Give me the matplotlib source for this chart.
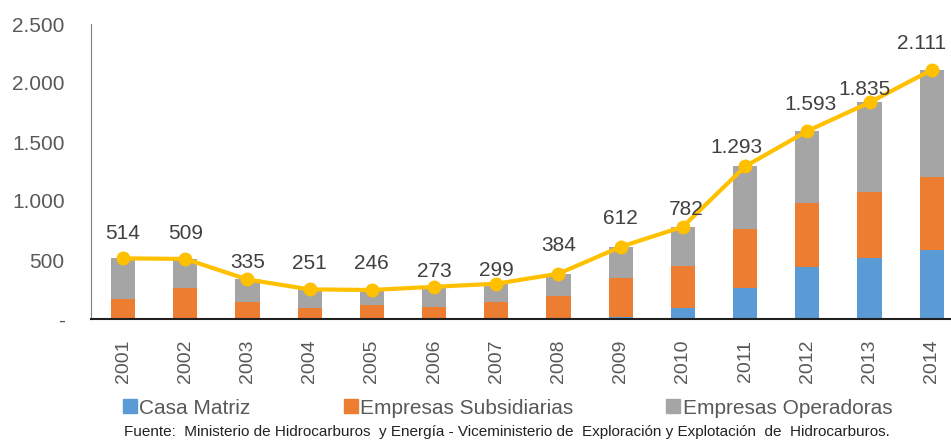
import numpy as np
import matplotlib.pyplot as plt
from matplotlib.lines import Line2D

years = ["2001", "2002", "2003", "2004", "2005", "2006", "2007",
         "2008", "2009", "2010", "2011", "2012", "2013", "2014"]
casa_matriz = [0, 0, 0, 0, 0, 0, 0, 0, 20, 90, 265, 440, 520, 585]
subsidiarias = [170, 260, 140, 90, 115, 100, 140, 195, 325, 360, 500, 540, 555, 620]
totales = [514, 509, 335, 251, 246, 273, 299, 384, 612, 782, 1293, 1593, 1835, 2111]
operadoras = [t - c - s for t, c, s in zip(totales, casa_matriz, subsidiarias)]
total_labels = ["514", "509", "335", "251", "246", "273", "299", "384", "612",
                "782", "1.293", "1.593", "1.835", "2.111"]
yticks = [0, 500, 1000, 1500, 2000, 2500]
ytick_labels = ["-", "500", "1.000", "1.500", "2.000", "2.500"]

# label placement (pixels relative to each point)
label_dx = [0, 0, 0, 0, 0, 0, 0, 0, 0, 3, -9, 3, -5, -10]
label_dy = [25, 25, 17, 26, 26, 15, 13, 28, 28, 17, 19, 27, 13, 26]

# colours
blue = "#5B9BD5"
orange = "#ED7D31"
gray = "#A5A5A5"
gold = "#FFC000"
txt = "#595959"

plt.rcParams['font.family'] = ['Liberation Sans', 'DejaVu Sans']

fig = plt.figure(figsize=(9.51, 4.41), dpi=100)
ax = fig.add_axes([91 / 951, 122 / 441, 860 / 951, (319 - 24) / 441])

x = np.arange(len(years))
w = 0.39
ax.bar(x, casa_matriz, w, color=blue, zorder=2)
ax.bar(x, subsidiarias, w, bottom=casa_matriz, color=orange, zorder=2)
bottom2 = [c + s for c, s in zip(casa_matriz, subsidiarias)]
ax.bar(x, operadoras, w, bottom=bottom2, color=gray, zorder=2)

ax.plot(x, totales, color=gold, linewidth=3, marker='o', markersize=9,
        zorder=3, clip_on=False)
for i, (v, lab) in enumerate(zip(totales, total_labels)):
    ax.annotate(lab, (i, v), xytext=(label_dx[i], label_dy[i]),
                textcoords='offset pixels', ha='center', va='center',
                fontsize=15, color="#404040", zorder=4, annotation_clip=False)

ax.set_xlim(-0.515, 13.31)
ax.set_ylim(0, 2500)
ax.set_yticks(yticks)
ax.set_yticklabels(ytick_labels, fontsize=15, color=txt)
ax.set_xticks(x)
ax.set_xticklabels(years, rotation=90, fontsize=14, color=txt)
ax.tick_params(axis='both', length=0)
ax.tick_params(axis='x', pad=15)
ax.tick_params(axis='y', pad=19)
ax.spines['top'].set_visible(False)
ax.spines['right'].set_visible(False)
ax.spines['left'].set_color("#808080")
ax.spines['bottom'].set_color("#202020")
ax.spines['bottom'].set_linewidth(1.5)

handles = [Line2D([], [], marker='s', linestyle='none', color=c, markersize=10)
           for c in (blue, orange, gray)]
fig.legend(handles, ["Casa Matriz", "Empresas Subsidiarias", "Empresas Operadoras"],
           loc='center', bbox_to_anchor=(507 / 951, 1 - 408 / 441), ncol=3,
           frameon=False, fontsize=15, labelcolor=txt, handletextpad=0.05,
           columnspacing=4.4, handlelength=0.8)

fig.text(507 / 951, 1 - 432 / 441,
         "Fuente:  Ministerio de Hidrocarburos  y Energía - Viceministerio de  Exploración y Explotación  de  Hidrocarburos.",
         ha='center', va='center', fontsize=11, color="#222222")

fig.savefig("out.png", dpi=100)
